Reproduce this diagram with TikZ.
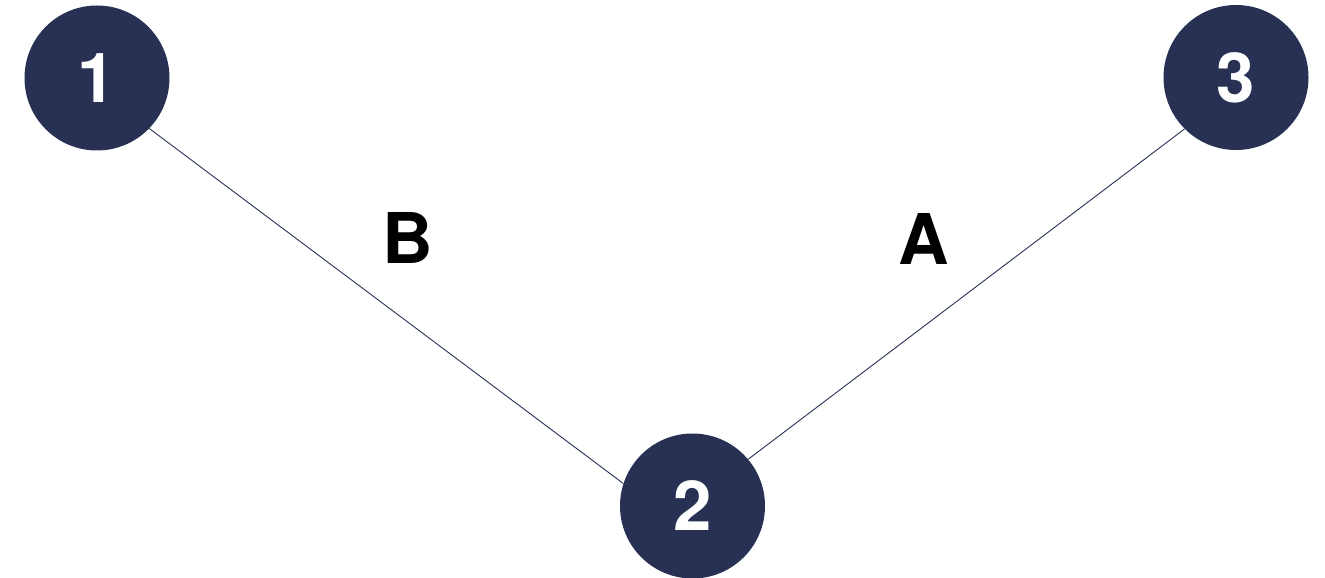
\documentclass[tikz,border=0pt]{standalone}
\usepackage{fontspec}
\setmainfont{TeX Gyre Heros}
\definecolor{navy}{HTML}{283154}
\begin{document}
\begin{tikzpicture}[x=1pt,y=1pt,
  stepcircle/.style={circle, fill=navy, minimum size=145pt, inner sep=0pt,
    text=white, font=\fontsize{69}{69}\selectfont\bfseries},
  edgelabel/.style={inner sep=0pt, text=black, font=\fontsize{70}{70}\selectfont\bfseries},
  link/.style={draw=navy, line width=0.9pt}]
  \useasboundingbox (0,0) rectangle (1325,578);
  % numbered stations
  \node[stepcircle] (n1) at (97,500) {1};
  \node[stepcircle] (n2) at (692.5,72) {2};
  \node[stepcircle] (n3) at (1236,500.5) {3};
  % links between them
  \draw[link] (n1.-44.4) -- (n2.162);
  \draw[link] (n3.225.6) -- (n2.40);
  % link labels
  \node[edgelabel] (lb) at (408,340) {B};
  \node[edgelabel] (la) at (924,339) {A};
\end{tikzpicture}
\end{document}
